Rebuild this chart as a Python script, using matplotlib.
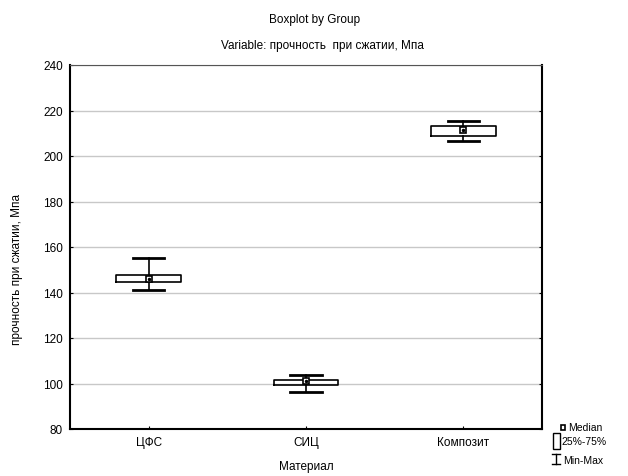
import matplotlib
matplotlib.use("Agg")
import matplotlib.pyplot as plt
from matplotlib.patches import Rectangle
from matplotlib.lines import Line2D

plt.rcParams['font.family'] = ['Liberation Sans', 'DejaVu Sans']

# материалы и статистика по прочности
groups = ["ЦФС", "СИЦ", "Композит"]
mins = [141.3, 96.2, 206.5]
q1s = [144.8, 99.4, 208.7]
medians = [145.8, 100.9, 211.6]
q3s = [147.8, 101.4, 213.3]
maxs = [155.0, 103.9, 215.5]

yticks = [80, 100, 120, 140, 160, 180, 200, 220, 240]

fig = plt.figure(figsize=(6.28, 4.77), dpi=100)
ax = fig.add_axes([70 / 628, 1 - 430 / 477, 472 / 628, 364 / 477])

stats = []
for g, lo, a, m, b, hi in zip(groups, mins, q1s, medians, q3s, maxs):
    stats.append(dict(label=g, whislo=lo, q1=a, med=m, q3=b, whishi=hi, fliers=[]))

pos = list(range(1, len(groups) + 1))
ax.bxp(stats, positions=pos, widths=0.41, showfliers=False,
       boxprops=dict(color="black", linewidth=1.2),
       whiskerprops=dict(color="black", linewidth=1.2),
       capprops=dict(color="black", linewidth=2),
       capwidths=0.2,
       medianprops=dict(linestyle="none"))
# медиана — маленький квадрат с точкой
ax.plot(pos, medians, linestyle="none", marker="s", markersize=5,
        markerfacecolor="white", markeredgecolor="black", markeredgewidth=1.2, zorder=5)
ax.plot(pos, medians, linestyle="none", marker="o", markersize=1.5, color="black", zorder=6)

ax.set_xlim(0.5, 3.5)
ax.set_ylim(80, 240)
ax.set_yticks(yticks)
ax.set_xticks(pos)
ax.set_xticklabels(groups)
ax.yaxis.grid(True, color="#c8c8c8", linewidth=1)
ax.set_axisbelow(True)
ax.tick_params(direction="in", length=2, labelsize=8.5, right=True, pad=5)
for s in ["left", "bottom", "right"]:
    ax.spines[s].set_linewidth(1.5)
ax.spines["top"].set_linewidth(0.8)
ax.spines["top"].set_color("#555555")

ax.set_xlabel("Материал", fontsize=8.5)
ax.set_ylabel("прочность при сжатии, Мпа", fontsize=8.5)
ax.xaxis.set_label_coords(0.5, -0.085)
ax.yaxis.set_label_coords(-0.1, 0.44)

fig.text(315 / 628, 1 - 20 / 477, "Boxplot by Group", ha="center", va="center", fontsize=8.5)
fig.text(322 / 628, 1 - 46 / 477, "Variable: прочность  при сжатии, Мпа",
         ha="center", va="center", fontsize=8.5)

# легенда справа внизу
lg = fig.add_axes([0, 0, 1, 1])
lg.set_xlim(0, 628)
lg.set_ylim(477, 0)
lg.axis("off")
lg.add_patch(Rectangle((561, 425.5), 4, 5, fill=False, edgecolor="black", linewidth=1.2))
lg.text(568, 428, "Median", fontsize=7.5, va="center")
lg.add_patch(Rectangle((553, 434), 7, 16, fill=False, edgecolor="black", linewidth=1))
lg.text(561, 442, "25%-75%", fontsize=7.5, va="center")
lg.add_line(Line2D([556, 556], [455, 465], color="black", linewidth=1))
lg.add_line(Line2D([552, 560], [455, 455], color="black", linewidth=1))
lg.add_line(Line2D([552, 560], [465, 465], color="black", linewidth=1))
lg.text(563, 461, "Min-Max", fontsize=7.5, va="center")

fig.savefig("out.png", dpi=100)
